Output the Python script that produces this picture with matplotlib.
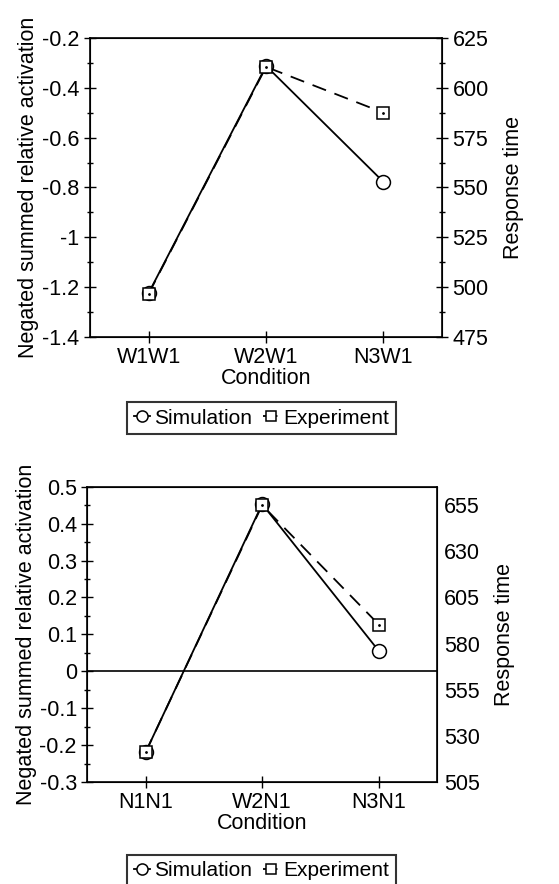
import matplotlib
matplotlib.use("Agg")
import matplotlib.pyplot as plt
from matplotlib.ticker import MultipleLocator, FixedLocator, FuncFormatter

plt.rcParams['font.family'] = ['Liberation Sans', 'DejaVu Sans']
plt.rcParams['axes.unicode_minus'] = False

# data
cond_top = ["W1W1", "W2W1", "N3W1"]
sim_top = [-1.224, -0.312, -0.778]
exp_top = [496.7, 610.5, 587.5]
rt_ticks_top = [475, 500, 525, 550, 575, 600, 625]

cond_bot = ["N1N1", "W2N1", "N3N1"]
sim_bot = [-0.22, 0.453, 0.055]
exp_bot = [521, 655, 590.3]
rt_ticks_bot = [505, 530, 555, 580, 605, 630, 655]

FS = 15.5
fmt = FuncFormatter(lambda v, p: "%g" % round(v, 3))


def panel(rect, cats, sim, exp, ylim, ymaj, ymin, rlim, rticks, right_ticks, zero_line):
    ax = fig.add_axes(rect)
    x = list(range(len(cats)))
    ax.plot(x, sim, color='black', lw=1.3, marker='o', ms=10, mfc='white', mec='black',
            mew=1.1, zorder=3, label='Simulation')
    ax.set_xlim(-0.5, 2.5)
    ax.set_ylim(*ylim)
    ax.set_xticks(x)
    ax.set_xticklabels(cats)
    ax.yaxis.set_major_locator(MultipleLocator(ymaj))
    ax.yaxis.set_minor_locator(MultipleLocator(ymin))
    ax.yaxis.set_major_formatter(fmt)
    ax.tick_params(axis='both', direction='inout', length=9, width=1, labelsize=FS, pad=3)
    ax.tick_params(axis='y', which='minor', direction='inout', length=5, width=1)
    ax.set_xlabel("Condition", fontsize=FS, labelpad=0)
    ax.set_ylabel("Negated summed relative activation", fontsize=FS, labelpad=2)
    if zero_line:
        ax.axhline(0, color='black', lw=1.2, zorder=1)
    for s in ax.spines.values():
        s.set_linewidth(1.2)

    ax2 = ax.twinx()
    ax2.plot(x, exp, color='black', lw=1.3, dashes=(8, 5), marker='s', ms=9, mfc='white',
             mec='black', mew=1.1, zorder=3, label='Experiment')
    ax2.plot(x, exp, ls='none', marker='.', ms=2, color='black', zorder=4)
    ax2.set_ylim(*rlim)
    ax2.yaxis.set_major_locator(FixedLocator(rticks))
    if right_ticks:
        ax2.yaxis.set_minor_locator(MultipleLocator(12.5))
        ax2.tick_params(axis='y', direction='inout', length=9, width=1, labelsize=FS, pad=3)
        ax2.tick_params(axis='y', which='minor', direction='inout', length=5, width=1)
    else:
        ax2.tick_params(axis='y', length=0, labelsize=FS, pad=5)
    ax2.set_ylabel("Response time", fontsize=FS, labelpad=10)
    return ax, ax2


fig = plt.figure(figsize=(5.59, 8.84), dpi=100)

a1, b1 = panel([0.161, 0.619, 0.630, 0.338], cond_top, sim_top, exp_top,
               (-1.4, -0.2), 0.2, 0.1, (475, 625), rt_ticks_top, True, False)
a2, b2 = panel([0.156, 0.1154, 0.626, 0.334], cond_bot, sim_bot, exp_bot,
               (-0.3, 0.5), 0.1, 0.05, (505, 665), rt_ticks_bot, False, True)

for ax, ax2, y in [(a1, b1, 0.527), (a2, b2, 0.015)]:
    h1, l1 = ax.get_legend_handles_labels()
    h2, l2 = ax2.get_legend_handles_labels()
    leg = fig.legend(h1 + h2, l1 + l2, loc='center', bbox_to_anchor=(0.468, y), ncol=2,
                     frameon=True, fancybox=False, edgecolor='black', fontsize=15,
                     handlelength=0.8, handletextpad=0.2, columnspacing=0.5,
                     borderpad=0.3, borderaxespad=0.2, markerscale=0.8)
    leg.get_frame().set_linewidth(1.5)

fig.savefig("out.png", dpi=100)
